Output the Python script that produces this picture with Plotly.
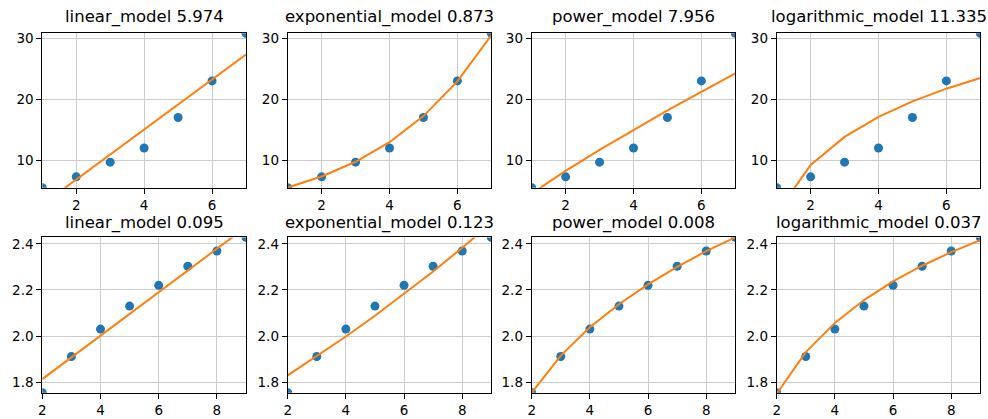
import plotly.graph_objects as go
from plotly.subplots import make_subplots

# ---- data ----
model_names = ["linear_model", "exponential_model", "power_model", "logarithmic_model"]
scores_top = ["5.974", "0.873", "7.956", "11.335"]
scores_bottom = ["0.095", "0.123", "0.008", "0.037"]

x_top = [1, 2, 3, 4, 5, 6, 7]
y_top = [5.46, 7.26, 9.67, 12.0, 17.0, 23.0, 30.82]
fit_top_linear = [2.72, 6.82, 10.93, 15.03, 19.13, 23.24, 27.34]
fit_top_exponential = [5.50, 7.32, 9.73, 12.95, 17.23, 22.92, 30.50]
fit_top_power = [4.54, 8.25, 11.70, 14.98, 18.15, 21.22, 24.26]
fit_top_log = [1.30, 9.20, 13.82, 17.10, 19.65, 21.73, 23.48]

x_bottom = [2, 3, 4, 5, 6, 7, 8, 9]
y_bottom = [1.754, 1.911, 2.030, 2.130, 2.220, 2.303, 2.369, 2.428]
fit_bottom_linear = [1.813, 1.907, 2.001, 2.096, 2.190, 2.284, 2.379, 2.473]
fit_bottom_exponential = [1.829, 1.912, 1.998, 2.088, 2.182, 2.280, 2.383, 2.490]
fit_bottom_power = [1.754, 1.915, 2.038, 2.138, 2.224, 2.300, 2.368, 2.428]
fit_bottom_log = [1.750, 1.930, 2.057, 2.156, 2.237, 2.305, 2.364, 2.416]

top_ticks_x = [2, 4, 6]
top_ticks_y = [10, 20, 30]
bottom_ticks_x = [2, 4, 6, 8]
bottom_ticks_y = [1.8, 2.0, 2.2, 2.4]

# ---- figure ----
W, H = 988, 419
BLUE = "#1f77b4"
ORANGE = "#ff7f0e"
FONT = "DejaVu Sans"

fig = make_subplots(rows=2, cols=4)

top_fits = [fit_top_linear, fit_top_exponential, fit_top_power, fit_top_log]
bottom_fits = [fit_bottom_linear, fit_bottom_exponential, fit_bottom_power, fit_bottom_log]

col_px = [(42.3, 246.0), (287.7, 491.3), (531.7, 735.3), (776.7, 980.3)]
row_px = [(33.3, 187.8), (237.4, 392.7)]

annotations = []
for r in range(2):
    xs = x_top if r == 0 else x_bottom
    ys = y_top if r == 0 else y_bottom
    fits = top_fits if r == 0 else bottom_fits
    scores = scores_top if r == 0 else scores_bottom
    for c in range(4):
        fig.add_trace(go.Scatter(x=xs, y=ys, mode="markers",
                                 marker=dict(color=BLUE, size=9),
                                 showlegend=False), row=r + 1, col=c + 1)
        fig.add_trace(go.Scatter(x=xs, y=fits[c], mode="lines",
                                 line=dict(color=ORANGE, width=2),
                                 showlegend=False), row=r + 1, col=c + 1)
        idx = r * 4 + c + 1
        xa = "xaxis" if idx == 1 else f"xaxis{idx}"
        ya = "yaxis" if idx == 1 else f"yaxis{idx}"
        x0, x1 = col_px[c]
        y0, y1 = row_px[r]
        common = dict(showgrid=True, gridcolor="#cccccc", gridwidth=1,
                      showline=True, linecolor="black", linewidth=1, mirror=True,
                      ticks="outside", ticklen=5, tickwidth=1, tickcolor="black",
                      zeroline=False, automargin=False,
                      tickfont=dict(family=FONT, size=13.5, color="black"))
        xr = [min(xs), max(xs)]
        yr = [min(ys), max(ys)]
        if r == 0:
            xt, yt, yfmt = top_ticks_x, top_ticks_y, "d"
        else:
            xt, yt, yfmt = bottom_ticks_x, bottom_ticks_y, ".1f"
        fig.layout[xa].update(domain=[x0 / W, x1 / W], range=xr,
                              tickvals=xt, **common)
        fig.layout[ya].update(domain=[1 - y1 / H, 1 - y0 / H], range=yr,
                              tickvals=yt, tickformat=yfmt, **common)
        title_y = 16.7 if r == 0 else 222.7
        annotations.append(dict(
            text=f"{model_names[c]} {scores[c]}",
            x=(x0 + x1) / 2 / W, y=1 - title_y / H,
            xref="paper", yref="paper", xanchor="center", yanchor="middle",
            showarrow=False, font=dict(family=FONT, size=16.5, color="black")))

fig.update_layout(width=W, height=H, margin=dict(l=0, r=0, t=0, b=0),
                  paper_bgcolor="white", plot_bgcolor="white",
                  annotations=annotations, font=dict(family=FONT))

fig.write_html("out.html", config={"displayModeBar": False},
               post_script="document.body.style.margin='0';document.body.style.overflow='hidden';")
